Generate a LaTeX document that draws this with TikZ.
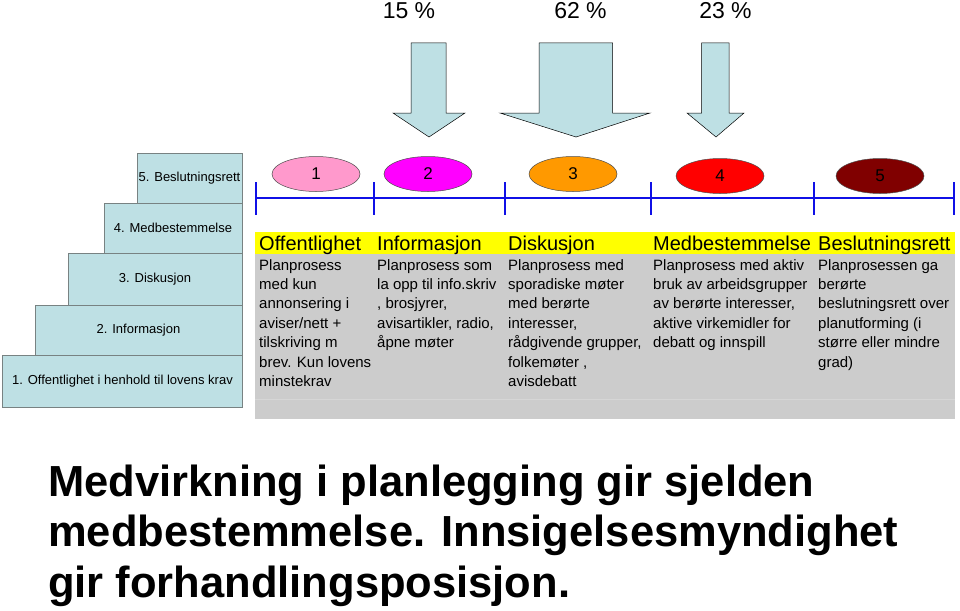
\documentclass[tikz,border=0pt]{standalone}
\usepackage{fontspec}
\setmainfont{Liberation Sans}
\usetikzlibrary{shapes.geometric}
\definecolor{stairblue}{RGB}{190,224,228}
\definecolor{stairline}{RGB}{120,130,130}
\definecolor{tablegray}{RGB}{204,204,204}
\definecolor{bandgray}{RGB}{214,214,214}
\definecolor{headyellow}{RGB}{255,255,0}
\definecolor{lineblue}{RGB}{16,16,230}
\definecolor{ell1}{RGB}{255,153,204}
\definecolor{ell2}{RGB}{255,0,255}
\definecolor{ell3}{RGB}{255,153,0}
\definecolor{ell4}{RGB}{255,0,0}
\definecolor{ell5}{RGB}{128,0,0}
\begin{document}
\begin{tikzpicture}[x=1pt,y=-1pt,
  stairbox/.style={draw=stairline,line width=0.7pt,fill=stairblue,inner sep=0pt,outer sep=0pt,font=\fontsize{13}{15}\selectfont},
  bigarrow/.style={draw=black,line width=0.5pt,fill=stairblue},
  pct/.style={anchor=base,inner sep=0pt,font=\fontsize{23}{26}\selectfont},
  phase/.style={ellipse,draw=black!70,line width=0.5pt,minimum width=88pt,minimum height=35pt,inner sep=0pt,font=\fontsize{17}{19}\selectfont},
  scaleline/.style={draw=lineblue,line width=2.8pt},
  tick/.style={draw=lineblue,line width=2.2pt},
  head/.style={anchor=base west,inner sep=0pt,font=\fontsize{20}{23}\selectfont},
  body/.style={anchor=base west,inner sep=0pt}
]
\useasboundingbox (0,0) rectangle (960,610);
\fill[white] (0,0) rectangle (960,610);

% staircase
\node[stairbox,minimum width=240pt,minimum height=52pt] (s1) at (122.5,381) {1. Offentlighet i henhold til lovens krav};
\node[stairbox,minimum width=207pt,minimum height=50pt] (s2) at (138.5,330) {2. Informasjon};
\node[stairbox,minimum width=174pt,minimum height=52pt] (s3) at (155,279) {3. Diskusjon};
\node[stairbox,minimum width=138pt,minimum height=50pt] (s4) at (173,228) {4. Medbestemmelse};
\node[stairbox,minimum width=105pt,minimum height=50pt] (s5) at (189.5,178) {5. Beslutningsrett};

% percentages
\node[pct] (p1) at (409,18.5) {15 \%};
\node[pct] (p2) at (580.5,18.5) {62 \%};
\node[pct] (p3) at (725.5,18.5) {23 \%};

% block arrows
\draw[bigarrow] (411,43) -- (446,43) -- (446,113) -- (465,113) -- (429,137) -- (393,113) -- (411,113) -- cycle;
\draw[bigarrow] (539,43) -- (612.5,43) -- (612.5,113) -- (650,113) -- (576,137) -- (500,113) -- (539,113) -- cycle;
\draw[bigarrow] (701.5,43) -- (729,43) -- (729,113) -- (744,113) -- (716,137) -- (687,113) -- (701.5,113) -- cycle;

% scale line
\coordinate (la) at (256,198);
\coordinate (lb) at (954,198);
\draw[scaleline] (la) -- (lb);
\foreach \x/\n in {256/t0,374/t1,505/t2,651/t3,814/t4,954/t5}{
  \coordinate (\n a) at (\x,182);
  \coordinate (\n b) at (\x,215);
  \draw[tick] (\n a) -- (\n b);
}

% phases
\node[phase,fill=ell1] (e1) at (316,174) {1};
\node[phase,fill=ell2] (e2) at (428,174) {2};
\node[phase,fill=ell3] (e3) at (573,174) {3};
\node[phase,fill=ell4] (e4) at (720,176) {4};
\node[phase,fill=ell5] (e5) at (880,176) {5};

% table
\fill[headyellow] (255,232) rectangle (955,254);
\fill[tablegray] (255,254) rectangle (955,419);
\draw[bandgray,line width=1pt] (255,399) -- (955,399);

\node[head] (h1) at (259,250) {Offentlighet};
\node[head] (h2) at (377,250) {Informasjon};
\node[head] (h3) at (508,250) {Diskusjon};
\node[head] (h4) at (653,250) {Medbestemmelse};
\node[head] (h5) at (818,250) {Beslutningsrett};

\node[body] (b1) at (259,270) {\parbox[t]{130pt}{\fontsize{15}{19.4}\selectfont Planprosess\\med kun\\annonsering i\\aviser/nett +\\tilskriving m\\brev. Kun lovens\\minstekrav}};
\node[body] (b2) at (377,270) {\parbox[t]{130pt}{\fontsize{15}{19.4}\selectfont Planprosess som\\la opp til info.skriv\\, brosjyrer,\\avisartikler, radio,\\åpne møter}};
\node[body] (b3) at (508,270) {\parbox[t]{140pt}{\fontsize{15}{19.4}\selectfont Planprosess med\\sporadiske møter\\med berørte\\interesser,\\rådgivende grupper,\\folkemøter ,\\avisdebatt}};
\node[body] (b4) at (653,270) {\parbox[t]{165pt}{\fontsize{15}{19.4}\selectfont Planprosess med aktiv\\bruk av arbeidsgrupper\\av berørte interesser,\\aktive virkemidler for\\debatt og innspill}};
\node[body] (b5) at (818,270) {\parbox[t]{140pt}{\fontsize{15}{19.4}\selectfont Planprosessen ga\\berørte\\beslutningsrett over\\planutforming (i\\større eller mindre\\grad)}};

% conclusion
\node[body] (conc) at (48,496) {\parbox[t]{900pt}{\fontsize{43.5}{50.5}\selectfont\bfseries Medvirkning i planlegging gir sjelden\\medbestemmelse. Innsigelsesmyndighet\\gir forhandlingsposisjon.}};
\end{tikzpicture}
\end{document}
